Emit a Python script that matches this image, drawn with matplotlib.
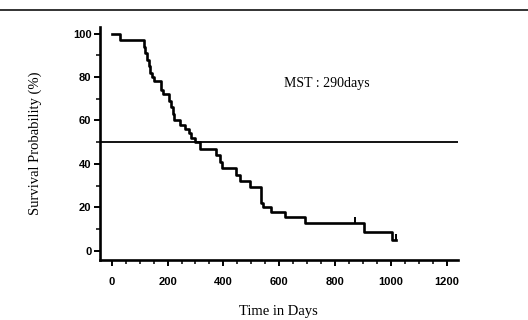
import numpy as np
from matplotlib import pyplot as plt
from matplotlib.lines import Line2D
from matplotlib.ticker import MultipleLocator

# Kaplan-Meier step points
days = [0, 30, 115, 120, 126, 132, 138, 144, 150, 177, 182, 205, 212, 218, 222,
        245, 262, 275, 285, 300, 315, 375, 387, 395, 445, 461, 497, 535, 542,
        569, 622, 693, 903, 1003, 1020]
survival = [100, 97, 94, 91, 88, 85, 82, 80, 78, 74, 72, 69, 66, 63, 60,
            58, 56, 54, 52, 50, 46.7, 44, 41, 38, 35, 32, 29.5, 22, 20,
            18, 15.5, 12.9, 8.8, 4.9, 4.9]
censored_days = [872, 1020]
censored_surv = [12.9, 4.9]

x_ticks = [0, 200, 400, 600, 800, 1000, 1200]
y_ticks = [0, 20, 40, 60, 80, 100]
median_line = 50
mst_text = 'MST : 290days'

fig = plt.figure(figsize=(5.28, 3.2), dpi=100)
ax = fig.add_axes([0.189, 0.1875, 0.678, 0.728])

ax.plot(days, survival, drawstyle='steps-post', color='black', lw=1.9)
ax.plot(censored_days, [s + 1.2 for s in censored_surv], ls='none', marker='|',
        ms=4, mew=1.4, color='black')
ax.axhline(median_line, color='black', lw=1.3)

ax.text(770, 77, mst_text, family='Liberation Serif', fontsize=10,
        ha='center', va='center')

ax.set_xlim(-43, 1240)
ax.set_ylim(-4.3, 103)
ax.set_xticks(x_ticks)
ax.set_yticks(y_ticks)
ax.xaxis.set_minor_locator(MultipleLocator(50))
ax.yaxis.set_minor_locator(MultipleLocator(10))

for sp in ['top', 'right']:
    ax.spines[sp].set_visible(False)
for sp in ['left', 'bottom']:
    ax.spines[sp].set_linewidth(1.9)

ax.tick_params(which='major', direction='out', length=4, width=1.4)
ax.tick_params(which='minor', direction='out', length=3, width=1.1)
ax.tick_params(axis='x', pad=8)
ax.tick_params(axis='y', pad=2)
for lab in ax.get_xticklabels() + ax.get_yticklabels():
    lab.set_family('Liberation Sans')
    lab.set_fontweight('bold')
    lab.set_fontsize(8)

ax.set_xlabel('Time in Days', family='Liberation Serif', fontsize=10.5)
ax.set_ylabel('Survival Probability (%)', family='Liberation Serif', fontsize=10.5)
ax.xaxis.set_label_coords(0.5, -0.193)
ax.yaxis.set_label_coords(-0.162, 0.5)

# scanned page border line at top
fig.add_artist(Line2D([0, 1], [0.969, 0.969], transform=fig.transFigure,
                      color='#333333', lw=1.4))

fig.savefig('out.png', dpi=100)
